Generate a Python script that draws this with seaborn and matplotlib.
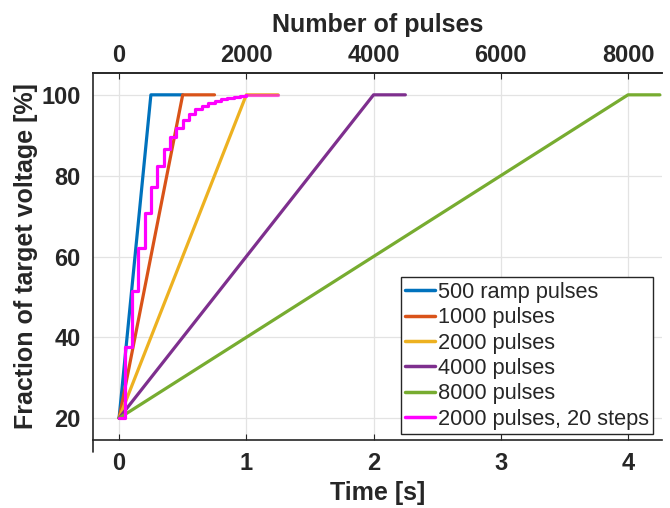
import numpy as np
import pandas as pd
import matplotlib
matplotlib.use("Agg")
import matplotlib.pyplot as plt
import seaborn as sns
from matplotlib.lines import Line2D

sns.set_theme(style="white")
plt.rcParams['font.family'] = ['Liberation Sans', 'DejaVu Sans']

# ---- data ----
ramp_labels = ["500 ramp pulses", "1000 pulses", "2000 pulses", "4000 pulses", "8000 pulses"]
ramp_end_time = [0.25, 0.5, 1.0, 2.0, 4.0]     # s, time to reach 100 %
hold_time = 0.25                                # s, hold after ramp
start_level = 20
target_level = 100
ramp_colors = ["#0072BD", "#D95319", "#EDB120", "#7E2F8E", "#77AC30"]

step_label = "2000 pulses, 20 steps"
step_times = [0.00, 0.05, 0.10, 0.15, 0.20, 0.25, 0.30, 0.35, 0.40, 0.45, 0.50,
              0.55, 0.60, 0.65, 0.70, 0.75, 0.80, 0.85, 0.90, 0.95, 1.00]
step_levels = [20, 37.6, 51.5, 62.2, 70.8, 77.3, 82.4, 86.5, 89.5, 91.9, 93.8,
               95.2, 96.4, 97.3, 97.9, 98.5, 98.9, 99.2, 99.5, 99.7, 100]
step_hold_times = [1.00, 1.25]
step_hold_levels = [100, 100]
step_color = "#FF00FF"

pulses_per_second = 2000
x_ticks = [0, 1, 2, 3, 4]
y_ticks = [20, 40, 60, 80, 100]
top_ticks = [0, 2000, 4000, 6000, 8000]

# ---- figure ----
fig = plt.figure(figsize=(6.7, 5.08), dpi=100)
ax = fig.add_axes([93/670, 1-440/508, (662-93)/670, (440-73)/508])

lw = 2.3
for lab, T, col in zip(ramp_labels, ramp_end_time, ramp_colors):
    df = pd.DataFrame({"t": [0, T, T + hold_time],
                       "v": [start_level, target_level, target_level]})
    sns.lineplot(data=df, x="t", y="v", ax=ax, color=col, lw=lw, label=lab,
                 estimator=None, sort=False)

df_s = pd.DataFrame({"t": step_times, "v": step_levels})
sns.lineplot(data=df_s, x="t", y="v", ax=ax, color=step_color, lw=lw,
             label=step_label, estimator=None, sort=False, drawstyle="steps-post")
df_h = pd.DataFrame({"t": step_hold_times, "v": step_hold_levels})
sns.lineplot(data=df_h, x="t", y="v", ax=ax, color=step_color, lw=lw, alpha=0.6,
             estimator=None, sort=False, legend=False)

xlim = (-0.205, 4.267)
ylim = (14.6, 105.4)
ax.set_xlim(*xlim)
ax.set_ylim(*ylim)
ax.set_xticks(x_ticks)
ax.set_yticks(y_ticks)
ax.grid(True, color="#E3E3E3", lw=0.9)
ax.set_axisbelow(True)

tick_font = dict(fontsize=17, fontweight="bold")
label_font = dict(fontsize=18, fontweight="bold")
ax.set_xticklabels([str(v) for v in x_ticks], **tick_font)
ax.set_yticklabels([str(v) for v in y_ticks], **tick_font)
dark = "#262626"
ax.tick_params(axis="both", direction="in", length=4, width=0.8, colors=dark,
               labelcolor="#262626", pad=9)
ax.tick_params(axis="x", pad=9)
ax.spines["right"].set_visible(False)
for s in ["left", "bottom", "top"]:
    ax.spines[s].set_color(dark)
    ax.spines[s].set_linewidth(1.2)
ax.add_line(Line2D([0, 0], [-0.033, 0], transform=ax.transAxes, color=dark,
                   lw=1.2, clip_on=False))

ax.set_xlabel("Time [s]", color=dark, labelpad=4, **label_font)
ax.set_ylabel("Fraction of target voltage [%]", color=dark, labelpad=2, **label_font)

ax2 = ax.twiny()
ax2.set_xlim(xlim[0] * pulses_per_second, xlim[1] * pulses_per_second)
ax2.set_xticks(top_ticks)
ax2.set_xticklabels([str(v) for v in top_ticks], **tick_font)
ax2.tick_params(axis="x", direction="in", length=4, width=0.8, colors=dark, pad=4)
for s in ["right", "left", "bottom"]:
    ax2.spines[s].set_visible(False)
ax2.spines["top"].set_color(dark)
ax2.spines["top"].set_linewidth(1.2)
ax2.set_xlabel("Number of pulses", color=dark, labelpad=9, **label_font)

leg = ax.legend(loc="lower right", bbox_to_anchor=(1.0 - 9/569, 6/367),
                fontsize=15.7, handlelength=1.4, handletextpad=0.1,
                borderpad=0.2, labelspacing=0.2, borderaxespad=0,
                frameon=True, fancybox=False, edgecolor=dark, framealpha=1)
leg.get_frame().set_linewidth(1.0)
for line in leg.get_lines():
    line.set_linewidth(2.5)

fig.savefig("out.png", dpi=100)
